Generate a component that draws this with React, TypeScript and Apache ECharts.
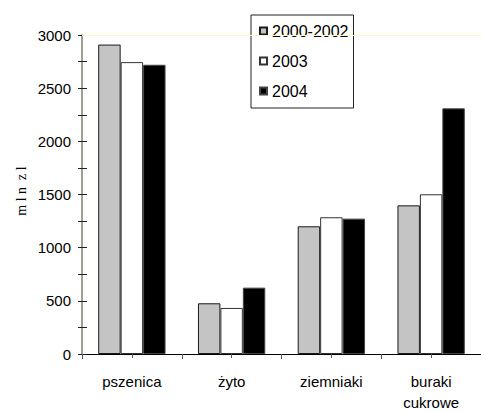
import React, { useEffect, useRef } from "react";
import * as echarts from "echarts";

const categories = ["pszenica", "żyto", "ziemniaki", "buraki\ncukrowe"];
const seriesNames = ["2000-2002", "2003", "2004"];
const values2000_2002 = [2910, 477, 1201, 1398];
const values2003 = [2745, 433, 1286, 1502];
const values2004 = [2720, 624, 1273, 2310];
const yTickLabels = [0, 500, 1000, 1500, 2000, 2500, 3000];
const yTitle = "m l n  z l";

const font = "'Liberation Sans', Arial, sans-serif";

export default function App() {
  const ref = useRef<HTMLDivElement>(null);
  useEffect(() => {
    if (!ref.current) return;
    const chart = echarts.init(ref.current, undefined, { renderer: "svg" });
    const yMax = yTickLabels[yTickLabels.length - 1];
    const barStyle = (color: string, border: string) => ({
      color,
      borderColor: border,
      borderWidth: 1,
    });
    chart.setOption({
      animation: false,
      backgroundColor: "#ffffff",
      grid: { left: 82, right: 0, top: 35, bottom: 59, containLabel: false },
      legend: {
        orient: "vertical",
        left: 251,
        top: 15,
        padding: [8, 5, 9, 8],
        borderColor: "#222",
        borderWidth: 1,
        itemWidth: 7,
        itemHeight: 7,
        itemGap: 14,
        icon: "rect",
        textStyle: { fontFamily: font, fontSize: 16, color: "#000", lineHeight: 16 },
        data: seriesNames,
      },
      xAxis: [
        {
          type: "category",
          data: categories,
          axisLine: { lineStyle: { color: "#000", width: 1 } },
          axisTick: { show: true, alignWithLabel: false, length: 5, lineStyle: { color: "#555" } },
          axisLabel: {
            fontFamily: font,
            fontSize: 15,
            color: "#000",
            margin: 17,
            lineHeight: 21,
            interval: 0,
          },
        },
        {
          type: "category",
          data: categories,
          position: "bottom",
          axisLine: { show: false },
          axisTick: { show: true, alignWithLabel: true, length: 4, lineStyle: { color: "#555" } },
          axisLabel: { show: false },
        },
      ],
      yAxis: [
        {
          type: "value",
          min: 0,
          max: yMax,
          interval: 250,
          axisLine: { show: true, lineStyle: { color: "#7f7f70", width: 1.5 } },
          axisTick: { show: true, length: 4, lineStyle: { color: "#222" } },
          splitLine: { show: false },
          axisLabel: {
            fontFamily: font,
            fontSize: 15,
            color: "#000",
            margin: 11,
            formatter: (v: number) => (yTickLabels.includes(v) ? String(v) : ""),
          },
        },
        {
          type: "value",
          min: 0,
          max: yMax,
          interval: 250,
          position: "left",
          axisLine: { show: false },
          axisTick: { show: true, inside: true, length: 5, lineStyle: { color: "#222" } },
          splitLine: { show: false },
          axisLabel: { show: false },
        },
      ],
      series: [
        {
          name: seriesNames[0],
          type: "bar",
          data: values2000_2002,
          barWidth: "22.5%",
          barGap: "0%",
          itemStyle: barStyle("#c4c4c4", "#1a1a1a"),
          markLine: {
            silent: true,
            symbol: "none",
            label: { show: false },
            lineStyle: { color: "#fff6c0", width: 1, type: "solid" },
            data: [{ yAxis: yMax }],
          },
        },
        {
          name: seriesNames[1],
          type: "bar",
          data: values2003,
          barWidth: "22.5%",
          barGap: "0%",
          itemStyle: barStyle("#ffffff", "#333333"),
        },
        {
          name: seriesNames[2],
          type: "bar",
          data: values2004,
          barWidth: "22.5%",
          barGap: "0%",
          itemStyle: barStyle("#000000", "#444444"),
        },
      ],
      graphic: [
        {
          type: "text",
          x: 21,
          y: 191,
          rotation: Math.PI / 2,
          style: {
            text: yTitle,
            fontFamily: "'Liberation Serif', 'Times New Roman', serif",
            fontSize: 14,
            fill: "#000",
            align: "center",
            verticalAlign: "middle",
          },
        },
      ],
    });
    return () => chart.dispose();
  }, []);
  return (
    <div
      ref={ref}
      style={{ position: "fixed", left: 0, top: 0, width: 481, height: 413 }}
    />
  );
}
